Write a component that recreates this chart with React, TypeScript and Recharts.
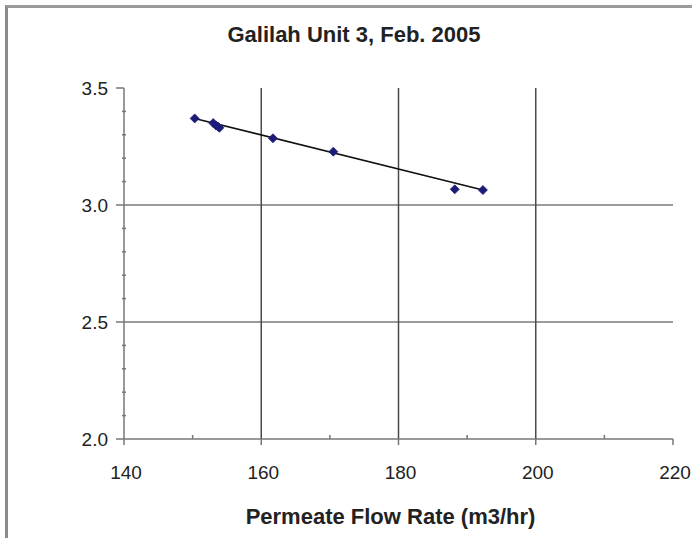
import React from 'react';
import { ScatterChart, Scatter, XAxis, YAxis, ReferenceLine } from 'recharts';

// values
const flowRate = [150.3, 153.0, 153.4, 153.7, 153.9, 161.7, 170.5, 188.2, 192.3];
const pressure = [3.37, 3.35, 3.34, 3.335, 3.33, 3.285, 3.228, 3.067, 3.064];

// linear trend line end points
const trendX = [150.3, 192.3];
const trendY = [3.37, 3.064];

const xTicks = [140, 150, 160, 170, 180, 190, 200, 210, 220];
const yTicks = [2.0, 2.1, 2.2, 2.3, 2.4, 2.5, 2.6, 2.7, 2.8, 2.9, 3.0, 3.1, 3.2, 3.3, 3.4, 3.5];
const xGrid = [160, 180, 200];
const yGrid = [2.5, 3.0];

const points = flowRate.map((x, i) => ({ x, y: pressure[i] }));
const trend = trendX.map((x, i) => ({ x, y: trendY[i] }));

const FONT = '"Liberation Sans", Arial, sans-serif';
const AXIS = '#777';

const XTick = ({ x, y, payload }: any) => {
  const major = Math.round(payload.value) % 20 === 0;
  return (
    <g>
      {major ? (
        <line x1={x} x2={x} y1={y} y2={y + 6} stroke={AXIS} strokeWidth={1.5} />
      ) : (
        <line x1={x} x2={x} y1={y - 4} y2={y} stroke={AXIS} strokeWidth={1.5} />
      )}
      {major && (
        <text x={x + 2} y={y + 40} textAnchor="middle" fontSize={19} fontFamily={FONT} fill="#222">
          {payload.value}
        </text>
      )}
    </g>
  );
};

const YTick = ({ x, y, payload }: any) => {
  const major = Math.round(payload.value * 10) % 5 === 0;
  return (
    <g>
      {major ? (
        <line x1={x - 8} x2={x} y1={y} y2={y} stroke={AXIS} strokeWidth={1.5} />
      ) : (
        <line x1={x - 2} x2={x + 2} y1={y} y2={y} stroke={AXIS} strokeWidth={1.5} />
      )}
      {major && (
        <text x={x - 16} y={y} dy="0.36em" textAnchor="end" fontSize={19} fontFamily={FONT} fill="#222">
          {payload.value.toFixed(1)}
        </text>
      )}
    </g>
  );
};

const noDot = () => <g />;

// small Excel-like diamond marker
const Diamond = ({ cx, cy }: any) => {
  const r = 4.5;
  return (
    <path
      d={`M${cx},${cy - r}L${cx + r},${cy}L${cx},${cy + r}L${cx - r},${cy}Z`}
      fill="#1c1c78"
      stroke="#1c1c78"
      strokeWidth={0.8}
    />
  );
};

export default function App() {
  return (
    <div style={{ position: 'absolute', left: 0, top: 0, width: 692, height: 538, background: '#fff', overflow: 'hidden' }}>
      <div
        style={{
          position: 'absolute',
          left: 5,
          top: 5,
          width: 700,
          height: 540,
          borderTop: '3px solid #9a9a9a',
          borderLeft: '3px solid #8a8a8a',
        }}
      />
      <div
        style={{
          position: 'absolute',
          left: 0,
          top: 22,
          width: 708,
          textAlign: 'center',
          fontFamily: FONT,
          fontWeight: 'bold',
          fontSize: 22,
          lineHeight: '26px',
          color: '#222',
        }}
      >
        Galilah Unit 3, Feb. 2005
      </div>
      <ScatterChart width={692} height={538} margin={{ top: 88, right: 19, bottom: 0, left: 0 }}>
        <XAxis
          type="number"
          dataKey="x"
          domain={[140, 220]}
          ticks={xTicks}
          interval={0}
          height={99}
          tickSize={0}
          tickMargin={0}
          tickLine={false}
          tick={<XTick />}
          axisLine={{ stroke: AXIS, strokeWidth: 1.5 }}
          label={{
            value: 'Permeate Flow Rate (m3/hr)',
            position: 'insideBottom',
            offset: 14,
            dx: -8,
            style: { fontFamily: FONT, fontWeight: 'bold', fontSize: 22, fill: '#222' },
          }}
        />
        <YAxis
          type="number"
          dataKey="y"
          domain={[2, 3.5]}
          ticks={yTicks}
          interval={0}
          width={124}
          tickSize={0}
          tickMargin={0}
          tickLine={false}
          tick={<YTick />}
          axisLine={{ stroke: AXIS, strokeWidth: 1.5 }}
        />
        {yGrid.map((v) => (
          <ReferenceLine key={'y' + v} y={v} stroke="#7a7a7a" strokeWidth={1.5} />
        ))}
        {xGrid.map((v) => (
          <ReferenceLine key={'x' + v} x={v} stroke="#4a4a4a" strokeWidth={1.5} />
        ))}
        <Scatter
          data={trend}
          line={{ stroke: '#111', strokeWidth: 1.6 }}
          shape={noDot}
          isAnimationActive={false}
        />
        <Scatter data={points} shape={<Diamond />} fill="#1c1c78" isAnimationActive={false} />
      </ScatterChart>
    </div>
  );
}
